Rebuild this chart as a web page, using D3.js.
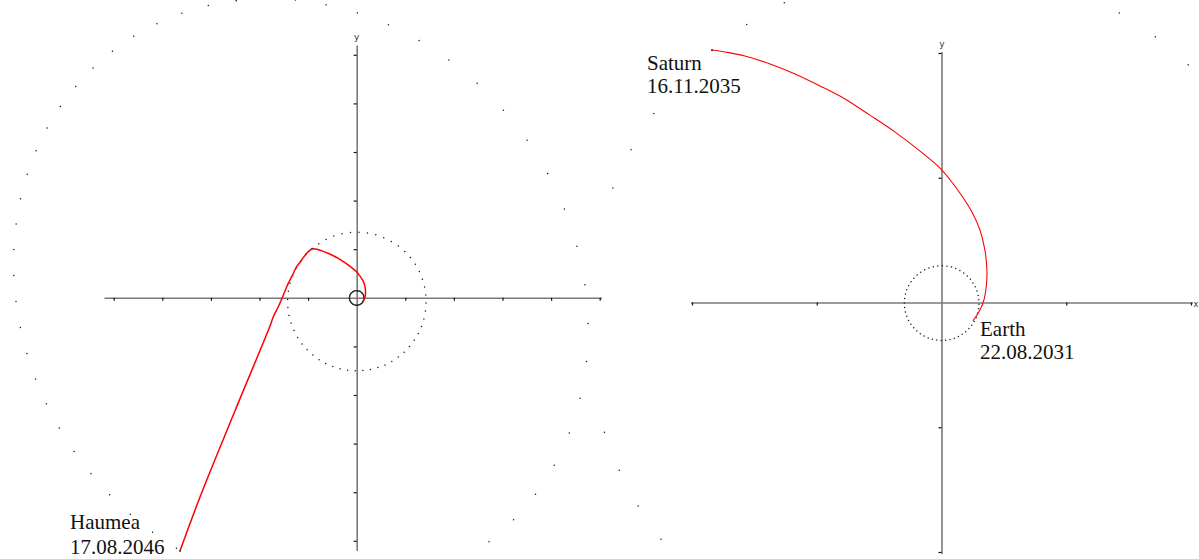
<!DOCTYPE html>
<html>
<head>
<meta charset="utf-8">
<script src="https://cdn.jsdelivr.net/npm/d3@7"></script>
<style>
  html, body { margin: 0; padding: 0; background: #fff; }
  svg { display: block; }
</style>
</head>
<body>
<svg id="chart" width="1199" height="559"></svg>
<script>
// ---- data -------------------------------------------------------------
// distances are in units of 10^9 km; orbital sizes are in AU
const AU = 0.1495978707;

// orbital elements of the bodies whose orbits are drawn as dotted rings
const orbitNames = ["Earth", "Saturn", "Haumea"];
const orbitA     = [1.000, 9.537, 43.12];     // semi-major axis, AU
const orbitE     = [0.0167, 0.054, 0.195];    // eccentricity
const orbitInc   = [0, 0, 28.2];              // inclination, deg
const orbitNode  = [0, 0, 122.2];             // ascending node, deg
const orbitPeri  = [102.9, 92.4, 239.5];      // argument of perihelion, deg
const orbitDots  = [52, 54, 60];              // dots drawn per revolution
const orbitPhase = [0, 2.73, 3.0];            // mean anomaly of first dot, deg

// leg 1: Earth -> Saturn transfer arc (x, y in 10^9 km)
const leg1X = [0.126, 0.154, 0.170, 0.180, 0.182, 0.174, 0.154, 0.122, 0.082, 0.038,
               -0.002, -0.086, -0.186, -0.287, -0.387, -0.487, -0.587, -0.687, -0.788, -0.868, -0.920];
const leg1Y = [-0.074, -0.030, 0.010, 0.070, 0.130, 0.210, 0.291, 0.363, 0.427, 0.487,
               0.535, 0.607, 0.683, 0.751, 0.816, 0.868, 0.916, 0.956, 0.988, 1.004, 1.012];

// leg 2: Saturn fly-by -> Haumea
const leg2X = [-0.920, -1.029, -1.132, -1.235, -1.337, -1.440, -1.523, -1.613, -1.716, -1.784, -2.510, -3.224, -3.636];
const leg2Y = [1.012, 0.916, 0.778, 0.640, 0.434, 0.228, 0.023, -0.183, -0.389, -0.580, -2.340, -4.099, -5.210];

// event labels
const eventNames = ["Earth", "Saturn", "Haumea"];
const eventDates = ["22.08.2031", "16.11.2035", "17.08.2046"];

// axis ticks (10^9 km)
const outerTicks = [-5, -4, -3, -2, -1, 1, 2, 3, 4, 5];
const innerTicks = [-1, -0.5, 0.5, 1];

// ---- helpers ----------------------------------------------------------
const rad = Math.PI / 180;

// heliocentric ecliptic positions (10^9 km) of equally timed points on an orbit
function orbitPoints(i) {
  const a = orbitA[i] * AU, e = orbitE[i];
  const inc = orbitInc[i] * rad, node = orbitNode[i] * rad, w = orbitPeri[i] * rad;
  const cO = Math.cos(node), sO = Math.sin(node), cw = Math.cos(w), sw = Math.sin(w), ci = Math.cos(inc);
  const Px = cO * cw - sO * sw * ci, Py = sO * cw + cO * sw * ci;
  const Qx = -cO * sw - sO * cw * ci, Qy = -sO * sw + cO * cw * ci;
  const b = a * Math.sqrt(1 - e * e);
  const n = orbitDots[i];
  return d3.range(n).map(k => {
    const M = (orbitPhase[i] + k * 360 / n) * rad;
    let E = M;
    for (let it = 0; it < 12; it++) E -= (E - e * Math.sin(E) - M) / (1 - e * Math.cos(E));
    const xp = a * (Math.cos(E) - e), yp = b * Math.sin(E);
    return [xp * Px + yp * Qx, xp * Py + yp * Qy];
  });
}

const leg1 = leg1X.map((x, i) => [x, leg1Y[i]]);
const leg2 = leg2X.map((x, i) => [x, leg2Y[i]]);

// ---- layout -----------------------------------------------------------
const panels = [
  {
    id: "outer", ox: 356.7, oy: 297.8, k: 48.6, ext: 5.2, ticks: outerTicks,
    clip: [0, 602], orbits: [0, 1, 2], legs: [leg1, leg2], legWidth: 1.5,
    yLabel: [356.7, 39.5],
    labels: [{ ev: 2, x: 70, y: 529.3, dy: 25 }]
  },
  {
    id: "inner", ox: 941.5, oy: 302.5, k: 249.5, ext: 1.006, ticks: innerTicks,
    clip: [602, 1199], orbits: [0, 1, 2], legs: [leg1], legWidth: 1.1,
    yLabel: [942, 46.5],
    labels: [{ ev: 1, x: 647, y: 70, dy: 23.3 }, { ev: 0, x: 980, y: 335.6, dy: 23.3 }]
  }
];

const svg = d3.select("#chart");
const defs = svg.append("defs");

panels.forEach(p => {
  defs.append("clipPath").attr("id", "clip-" + p.id)
    .append("rect").attr("x", p.clip[0]).attr("y", 0)
    .attr("width", p.clip[1] - p.clip[0]).attr("height", 559);

  const x = d3.scaleLinear().domain([-p.ext, p.ext]).range([p.ox - p.k * p.ext, p.ox + p.k * p.ext]);
  const y = d3.scaleLinear().domain([-p.ext, p.ext]).range([p.oy + p.k * p.ext, p.oy - p.k * p.ext]);

  const g = svg.append("g").attr("clip-path", `url(#clip-${p.id})`);

  // axes
  const xAxis = d3.axisBottom(x).tickValues(p.ticks).tickSize(3).tickSizeOuter(0).tickFormat("");
  const yAxis = d3.axisLeft(y).tickValues(p.ticks).tickSize(3).tickSizeOuter(0).tickFormat("");
  const gx = g.append("g").attr("transform", `translate(0,${y(0)})`).call(xAxis);
  const gy = g.append("g").attr("transform", `translate(${x(0)},0)`).call(yAxis);
  [gx, gy].forEach(ax => {
    ax.select(".domain").attr("stroke", "#7a7a7a").attr("stroke-width", 1.6);
    ax.selectAll(".tick line").attr("stroke", "#111").attr("stroke-width", 1.2);
  });

  g.append("text").attr("x", p.yLabel[0]).attr("y", p.yLabel[1])
    .attr("text-anchor", "middle").attr("font-family", "DejaVu Sans, sans-serif")
    .attr("font-size", 9).attr("fill", "#333").text("y");
  // x label sits just past the end of the axis (outside the left panel's clip)
  g.append("text").attr("x", x(p.ext) + 1).attr("y", y(0) + 4)
    .attr("text-anchor", "start").attr("font-family", "DejaVu Sans, sans-serif")
    .attr("font-size", 8).attr("fill", "#333").text("x");

  // dotted orbits
  p.orbits.forEach(i => {
    g.append("g").attr("class", "orbit-" + orbitNames[i])
      .selectAll("circle").data(orbitPoints(i)).join("circle")
      .attr("cx", d => x(d[0])).attr("cy", d => y(d[1]))
      .attr("r", 0.75).attr("fill", "#1a1a1a");
  });

  // trajectory legs
  const line = d3.line().x(d => x(d[0])).y(d => y(d[1])).curve(d3.curveCatmullRom.alpha(0.5));
  p.legs.forEach(leg => {
    g.append("path").datum(leg).attr("d", line)
      .attr("fill", "none").attr("stroke", "#ff0000").attr("stroke-width", p.legWidth);
    const end = leg[leg.length - 1];
    g.append("circle").attr("cx", x(end[0])).attr("cy", y(end[1])).attr("r", 0.9).attr("fill", "#333");
  });

  // event labels
  p.labels.forEach(l => {
    const t = g.append("text").attr("font-family", "Liberation Serif, Times New Roman, serif")
      .attr("font-size", 21).attr("fill", "#111");
    t.append("tspan").attr("x", l.x).attr("y", l.y).text(eventNames[l.ev]);
    t.append("tspan").attr("x", l.x).attr("y", l.y + l.dy).text(eventDates[l.ev]);
  });
});
</script>
</body>
</html>
